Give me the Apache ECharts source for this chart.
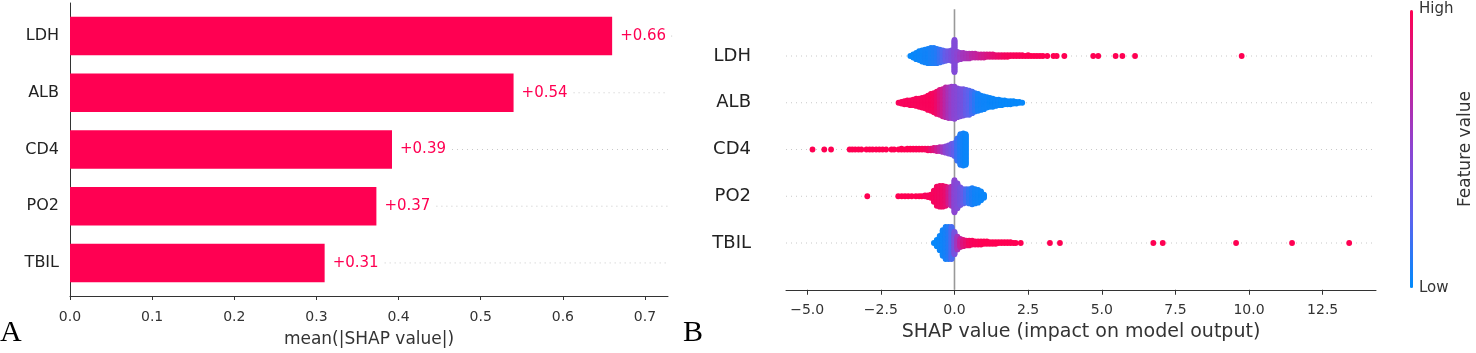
<!DOCTYPE html>
<html>
<head>
<meta charset="utf-8">
<script src="https://cdn.jsdelivr.net/npm/echarts@6/dist/echarts.min.js"></script>
<style>
  html, body { margin: 0; padding: 0; background: #fff; }
  #chart { width: 1476px; height: 353px; }
</style>
</head>
<body>
<div id="chart"></div>
<script>
// panel A: mean |SHAP| per feature (top to bottom)
var barFeatures = ['LDH', 'ALB', 'CD4', 'PO2', 'TBIL'];
var meanAbsShap = [0.66, 0.54, 0.392, 0.373, 0.31];
var xTicksA = [0, 0.1, 0.2, 0.3, 0.4, 0.5, 0.6, 0.7];

// panel B: rows bottom to top
var swarmFeatures = ['TBIL', 'PO2', 'CD4', 'ALB', 'LDH'];
var swarmRows = [0, 1, 2, 3, 4];
var xTicksB = [-5, -2.5, 0, 2.5, 5, 7.5, 10, 12.5];

// beeswarm columns: [SHAP value, number of dots, feature value 0=low..1=high]
var swarmLDH = [
    [-1.5,1,0.02],[-1.4,5,0.02],[-1.3,9,0.03],[-1.2,12,0.03],[-1.1,15,0.04],[-1.0,17,0.05],
    [-0.9,19,0.05],[-0.8,20,0.07],[-0.7,20,0.08],[-0.6,19,0.1],[-0.5,17,0.15],[-0.4,15,0.22],
    [-0.3,13,0.3],[-0.2,12,0.35],[-0.1,14,0.4],[0.0,41,0.45],[0.1,11,0.5],[0.2,9,0.55],
    [0.3,8,0.6],[0.4,7,0.62],[0.5,7,0.65],[0.6,6,0.7],[0.7,6,0.72],[0.8,5,0.75],[0.9,5,0.78],
    [1.0,5,0.8],[1.1,4,0.83],[1.2,4,0.85],[1.3,4,0.88],[1.4,3,0.9],[1.5,3,0.92],[1.6,3,0.93],
    [1.7,3,0.95],[1.8,3,0.96],[1.9,2,0.97],[2.0,2,0.97],[2.1,2,0.98],[2.2,2,0.98],[2.3,2,0.98],
    [2.4,1,0.99],[2.5,2,0.99],[2.6,1,1],[2.7,1,1],[2.8,1,1],[2.9,1,1],[3.0,1,1],[3.15,1,1],
    [3.36,1,1],[3.47,1,1],[3.73,1,1],[4.71,1,1],[4.88,1,1],[5.47,1,1],[5.70,1,1],[6.13,1,1],[9.75,1,1]
];
var swarmALB = [
    [-1.9,1,0.97],[-1.8,3,0.97],[-1.7,5,0.97],[-1.6,6,0.97],[-1.5,7,0.97],[-1.4,8,0.97],
    [-1.3,10,0.97],[-1.2,11,0.97],[-1.1,13,0.97],[-1.0,15,0.97],[-0.9,19,0.97],[-0.8,22,0.97],
    [-0.7,25,0.96],[-0.6,29,0.92],[-0.5,32,0.85],[-0.4,35,0.78],[-0.3,38,0.7],[-0.2,39,0.62],
    [-0.1,40,0.55],[0.0,41,0.5],[0.1,37,0.47],[0.2,35,0.42],[0.3,34,0.38],[0.4,32,0.3],
    [0.5,31,0.25],[0.6,28,0.18],[0.7,24,0.12],[0.8,22,0.06],[0.9,19,0.05],[1.0,17,0.04],
    [1.1,14,0.04],[1.2,12,0.03],[1.3,11,0.03],[1.4,9,0.03],[1.5,8,0.03],[1.6,7,0.02],
    [1.7,6,0.02],[1.8,5,0.02],[1.9,5,0.02],[2.0,4,0.02],[2.1,3,0.02],[2.2,2,0.02],[2.3,1,0.02]
];
var swarmCD4 = [
    [-4.82,1,1],[-4.42,1,1],[-4.19,1,1],[-3.56,1,1],[-3.47,1,1],[-3.37,1,1],[-3.26,1,1],
    [-3.16,1,1],[-2.99,1,1],[-2.88,1,1],[-2.78,1,1],[-2.66,1,1],[-2.55,1,1],[-2.44,1,1],
    [-2.32,1,1],[-2.14,1,1],[-2.05,1,1],[-1.9,1,1],[-1.8,2,1],[-1.7,1,1],[-1.6,2,1],[-1.5,2,1],
    [-1.4,2,1],[-1.3,2,0.99],[-1.2,2,0.99],[-1.1,2,0.98],[-1.0,2,0.97],[-0.9,3,0.95],
    [-0.8,3,0.9],[-0.7,4,0.85],[-0.6,5,0.78],[-0.5,6,0.7],[-0.4,7,0.6],[-0.3,9,0.5],
    [-0.2,11,0.42],[-0.1,14,0.35],[0.0,17,0.28],[0.1,29,0.16],[0.2,39,0.09],[0.3,41,0.05],[0.38,39,0.03]
];
var swarmPO2 = [
    [-2.96,1,1],[-1.91,1,1],[-1.79,1,1],[-1.68,1,1],[-1.57,1,1],[-1.45,1,1],[-1.31,1,1],
    [-1.2,1,1],[-1.11,1,1],[-1.0,2,0.97],[-0.9,3,0.97],[-0.8,5,0.97],[-0.7,15,0.96],
    [-0.6,25,0.95],[-0.5,27,0.94],[-0.4,27,0.93],[-0.3,25,0.9],[-0.2,22,0.8],[-0.1,25,0.65],
    [0.0,41,0.5],[0.1,32,0.45],[0.2,23,0.38],[0.3,19,0.3],[0.4,18,0.2],[0.5,19,0.12],
    [0.6,21,0.08],[0.7,19,0.05],[0.8,17,0.04],[0.9,12,0.03],[1.0,5,0.03]
];
var swarmTBIL = [
    [-0.7,1,0.02],[-0.6,9,0.02],[-0.5,19,0.03],[-0.4,33,0.04],[-0.3,41,0.06],[-0.2,41,0.1],
    [-0.1,41,0.2],[0.0,29,0.4],[0.1,17,0.6],[0.2,11,0.75],[0.3,9,0.85],[0.4,7,0.9],[0.5,7,0.95],
    [0.6,6,0.97],[0.7,5,0.98],[0.8,5,0.98],[0.9,5,0.99],[1.0,4,1],[1.1,4,1],[1.2,3,1],[1.3,3,1],
    [1.4,3,1],[1.5,2,1],[1.6,2,1],[1.7,2,1],[1.8,2,1],[1.9,2,1],[2.0,1,1],[2.08,1,1],[2.25,1,1],
    [3.24,1,1],[3.58,1,1],[6.75,1,1],[7.07,1,1],[9.56,1,1],[11.46,1,1],[13.4,1,1]
];

var FONT = 'DejaVu Sans';
var AXIS = '#333333';
var RED = '#ff0052';
var GUIDE = '#c8c8c8';

// stack the dots of each column up and down around the row, like shap's beeswarm
function buildSwarm(cols, row) {
    var maxLayer = 0;
    cols.forEach(function (c) { maxLayer = Math.max(maxLayer, Math.ceil((c[1] - 1) / 2)); });
    var step = 0.36 / (maxLayer + 1);
    var pts = [];
    cols.forEach(function (c) {
        for (var k = 0; k < c[1]; k++) {
            var off = Math.ceil(k / 2) * (k % 2 ? 1 : -1);
            pts.push([c[0], row + off * step, c[2]]);
        }
    });
    return pts;
}

var swarmPoints = [].concat(
    buildSwarm(swarmTBIL, 0),
    buildSwarm(swarmPO2, 1),
    buildSwarm(swarmCD4, 2),
    buildSwarm(swarmALB, 3),
    buildSwarm(swarmLDH, 4)
);

var barData = meanAbsShap.map(function (v, i) { return [v, i]; });

var myChart = echarts.init(document.getElementById('chart'));

var option = {
    animation: false,
    textStyle: { fontFamily: FONT },
    grid: [
        { left: 70, top: 3, width: 598, height: 297 },
        { left: 786, top: 9.25, width: 590, height: 280.5 }
    ],
    xAxis: [
        {
            gridIndex: 0, type: 'value', min: 0, max: 0.728,
            axisLine: { onZero: false, lineStyle: { color: AXIS, width: 1 } },
            axisTick: { show: true, length: 4, customValues: xTicksA, lineStyle: { color: AXIS } },
            axisLabel: {
                customValues: xTicksA, margin: 14, color: AXIS, fontSize: 14, fontFamily: FONT,
                formatter: function (v) { return v.toFixed(1); }
            },
            splitLine: { show: false },
            name: 'mean(|SHAP value|)', nameLocation: 'middle', nameGap: 35,
            nameTextStyle: { color: AXIS, fontSize: 17, fontFamily: FONT }
        },
        {
            gridIndex: 1, type: 'value', min: -5.72, max: 14.31,
            axisLine: { onZero: false, lineStyle: { color: AXIS, width: 1 } },
            axisTick: { show: true, length: 5, customValues: xTicksB, lineStyle: { color: AXIS } },
            axisLabel: {
                customValues: xTicksB, margin: 14, color: AXIS, fontSize: 14, fontFamily: FONT,
                formatter: function (v) { return v.toFixed(1).replace('-', '\u2212'); }
            },
            splitLine: { show: false },
            name: 'SHAP value (impact on model output)', nameLocation: 'middle', nameGap: 33,
            nameTextStyle: { color: AXIS, fontSize: 19, fontFamily: FONT }
        }
    ],
    yAxis: [
        {
            gridIndex: 0, type: 'value', inverse: true, min: -0.583, max: 4.583,
            axisLine: { show: true, onZero: false, lineStyle: { color: AXIS, width: 1 } },
            axisTick: { show: false },
            axisLabel: {
                customValues: [0, 1, 2, 3, 4], margin: 11, color: '#222', fontSize: 16, fontFamily: FONT,
                formatter: function (v) { return barFeatures[v]; }
            },
            splitLine: { show: false }
        },
        {
            gridIndex: 1, type: 'value', min: -1, max: 5,
            axisLine: { show: false, onZero: false },
            axisTick: { show: false },
            axisLabel: {
                customValues: [0, 1, 2, 3, 4], margin: 35, color: '#222', fontSize: 18, fontFamily: FONT,
                formatter: function (v) { return swarmFeatures[v]; }
            },
            splitLine: { show: false }
        }
    ],
    visualMap: {
        type: 'continuous', seriesIndex: 2, dimension: 2, min: 0, max: 1,
        orient: 'vertical', left: 1410, top: 10, itemWidth: 3, itemHeight: 278,
        padding: 0, calculable: false, hoverLink: false, text: null, showLabel: false,
        inRange: { color: ['#008bfb', '#5b63ee', '#8c45d2', '#c6209a', '#ff0052'] }
    },
    graphic: [
        { type: 'text', left: 0, top: 318, style: { text: 'A', font: '30px "Liberation Serif"', fill: '#000' } },
        { type: 'text', left: 683, top: 318, style: { text: 'B', font: '30px "Liberation Serif"', fill: '#000' } },
        { type: 'text', left: 1419, top: 2, style: { text: 'High', font: '15px "DejaVu Sans"', fill: AXIS } },
        { type: 'text', left: 1419, top: 281, style: { text: 'Low', font: '15px "DejaVu Sans"', fill: AXIS } },
        {
            type: 'text', x: 1466, y: 149, rotation: Math.PI / 2,
            style: { text: 'Feature value', font: '17px "DejaVu Sans"', fill: AXIS, align: 'center', verticalAlign: 'middle' }
        }
    ],
    series: [
        {
            // bars with value labels, dotted guide continues after the label
            type: 'custom', xAxisIndex: 0, yAxisIndex: 0, z: 3, data: barData,
            renderItem: function (params, api) {
                var start = api.coord([0, api.value(1)]);
                var end = api.coord([api.value(0), api.value(1)]);
                var h = api.size([0, 0.68])[1];
                var right = params.coordSys.x + params.coordSys.width;
                return {
                    type: 'group',
                    children: [
                        {
                            type: 'line', shape: { x1: end[0] + 60, y1: end[1], x2: right, y2: end[1] },
                            style: { stroke: GUIDE, lineWidth: 1, lineDash: [1, 4] }
                        },
                        { type: 'rect', shape: { x: start[0], y: start[1] - h / 2, width: end[0] - start[0], height: h }, style: { fill: RED } },
                        {
                            type: 'text', x: end[0] + 8, y: end[1],
                            style: { text: '+' + api.value(0).toFixed(2), fill: RED, font: '15px "DejaVu Sans"', verticalAlign: 'middle' }
                        }
                    ]
                };
            }
        },
        {
            // row guides and the zero line of the beeswarm
            type: 'custom', xAxisIndex: 1, yAxisIndex: 1, z: 1, silent: true,
            data: swarmRows,
            renderItem: function (params, api) {
                var cs = params.coordSys;
                var p = api.coord([0, api.value(0)]);
                var children = [{
                    type: 'line', shape: { x1: cs.x, y1: p[1], x2: cs.x + cs.width, y2: p[1] },
                    style: { stroke: GUIDE, lineWidth: 1, lineDash: [1, 4] }
                }];
                if (params.dataIndex === 0) {
                    children.push({
                        type: 'line', shape: { x1: p[0], y1: cs.y, x2: p[0], y2: cs.y + cs.height },
                        style: { stroke: '#999999', lineWidth: 1.6 }
                    });
                }
                return { type: 'group', children: children };
            }
        },
        {
            type: 'scatter', xAxisIndex: 1, yAxisIndex: 1, z: 3, symbolSize: 5.8,
            itemStyle: { opacity: 1 },
            data: swarmPoints
        }
    ]
};

myChart.setOption(option);
</script>
</body>
</html>
